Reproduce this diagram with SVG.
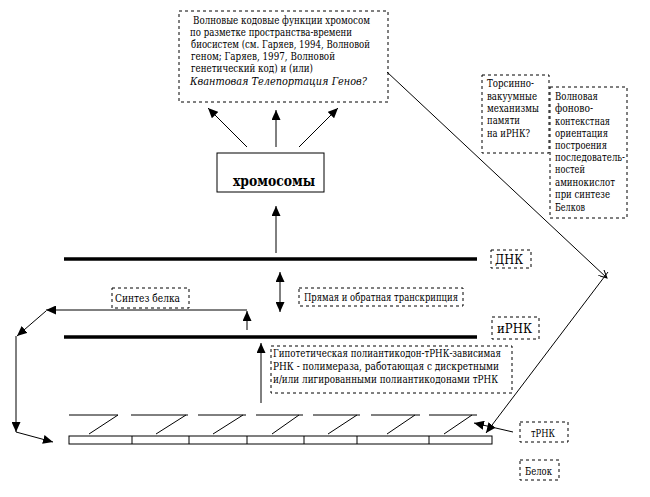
<svg xmlns="http://www.w3.org/2000/svg" width="650" height="497" viewBox="0 0 650 497">
<style>
text{font-family:'DejaVu Serif','Liberation Serif',serif;font-size:10.5px;fill:#000}
text.big{font-size:12px}
text.chrom{font-size:14px;font-weight:bold}
text.it{font-style:italic}
.box{fill:none;stroke:#000;stroke-width:1;stroke-dasharray:3,3}
.ln{fill:none;stroke:#000;stroke-width:1}
.thick{fill:none;stroke:#000;stroke-width:3.5}
</style>
<defs>
<marker id="ah" markerUnits="userSpaceOnUse" markerWidth="11" markerHeight="9" refX="10" refY="4.5" orient="auto-start-reverse">
<path d="M0,0 L10,4.5 L0,9 z" fill="#000"/>
</marker>
<marker id="ahs" markerUnits="userSpaceOnUse" markerWidth="9" markerHeight="8" refX="8" refY="4" orient="auto">
<path d="M0,0 L8,4 L0,8" fill="none" stroke="#000" stroke-width="1"/>
</marker>
</defs>
<rect width="650" height="497" fill="#fff"/>

<g id="top-box">
<rect class="box" x="179" y="11" width="209" height="91"/>
<text x="193" y="24" textLength="177" lengthAdjust="spacingAndGlyphs">Волновые кодовые функции хромосом</text>
<text x="190" y="36" textLength="162" lengthAdjust="spacingAndGlyphs">по разметке пространства-времени</text>
<text x="191" y="48" textLength="179" lengthAdjust="spacingAndGlyphs">биосистем (см. Гаряев, 1994, Волновой</text>
<text x="191" y="60" textLength="144" lengthAdjust="spacingAndGlyphs">геном; Гаряев, 1997,  Волновой</text>
<text x="191" y="72" textLength="122" lengthAdjust="spacingAndGlyphs">генетический код) и (или)</text>
<text class="it" x="190" y="85" textLength="177" lengthAdjust="spacingAndGlyphs">Квантовая Телепортация Генов?</text>
</g>

<g id="chromosomes">
<rect class="ln" x="217" y="153" width="107" height="39"/>
<text class="chrom" x="233" y="186" textLength="82" lengthAdjust="spacingAndGlyphs">хромосомы</text>
</g>

<g id="torsion-box">
<rect class="box" x="482" y="75" width="67" height="78"/>
<text x="487" y="87" textLength="47" lengthAdjust="spacingAndGlyphs">Торсинно-</text>
<text x="487" y="100" textLength="50" lengthAdjust="spacingAndGlyphs">вакуумные</text>
<text x="487" y="112" textLength="52" lengthAdjust="spacingAndGlyphs">механизмы</text>
<text x="487" y="124" textLength="33" lengthAdjust="spacingAndGlyphs">памяти</text>
<text x="487" y="137" textLength="43" lengthAdjust="spacingAndGlyphs">на иРНК?</text>
</g>

<g id="wave-box">
<rect class="box" x="550" y="87" width="77" height="131"/>
<text x="555" y="100" textLength="43" lengthAdjust="spacingAndGlyphs">Волновая</text>
<text x="555" y="112" textLength="38" lengthAdjust="spacingAndGlyphs">фоново-</text>
<text x="555" y="125" textLength="55" lengthAdjust="spacingAndGlyphs">контекстная</text>
<text x="555" y="137" textLength="53" lengthAdjust="spacingAndGlyphs">ориентация</text>
<text x="555" y="149" textLength="52" lengthAdjust="spacingAndGlyphs">построения</text>
<text x="555" y="161" textLength="70" lengthAdjust="spacingAndGlyphs">последователь-</text>
<text x="555" y="173" textLength="30" lengthAdjust="spacingAndGlyphs">ностей</text>
<text x="555" y="186" textLength="60" lengthAdjust="spacingAndGlyphs">аминокислот</text>
<text x="555" y="198" textLength="55" lengthAdjust="spacingAndGlyphs">при синтезе</text>
<text x="555" y="211" textLength="30" lengthAdjust="spacingAndGlyphs">Белков</text>
</g>

<g id="dna">
<line class="thick" x1="64" y1="259" x2="477" y2="259"/>
</g>
<g id="dna-label">
<rect class="box" x="491" y="250" width="40" height="18"/>
<text class="big" x="495" y="264" textLength="28" lengthAdjust="spacingAndGlyphs">ДНК</text>
</g>

<g id="transcription-label">
<rect class="box" x="299" y="288" width="164" height="18"/>
<text x="304" y="301" textLength="154" lengthAdjust="spacingAndGlyphs">Прямая и обратная транскрипция</text>
</g>

<g id="synthesis-label">
<rect class="box" x="112" y="288" width="77" height="20"/>
<text x="115" y="302" textLength="65" lengthAdjust="spacingAndGlyphs">Синтез белка</text>
</g>

<g id="mrna">
<line class="thick" x1="64" y1="337" x2="477" y2="337"/>
</g>
<g id="mrna-label">
<rect class="box" x="492" y="317" width="47" height="22"/>
<text class="big" x="497" y="333" textLength="35" lengthAdjust="spacingAndGlyphs">иРНК</text>
</g>

<g id="hypo-box">
<rect class="box" x="271" y="346" width="241" height="47"/>
<text x="273" y="357" textLength="228" lengthAdjust="spacingAndGlyphs">Гипотетическая полиантикодон-тРНК-зависимая</text>
<text x="273" y="370" textLength="226" lengthAdjust="spacingAndGlyphs">РНК -   полимераза, работающая  с  дискретными</text>
<text x="273" y="383" textLength="225" lengthAdjust="spacingAndGlyphs">и/или лигированными  полиантикодонами тРНК</text>
</g>

<g id="trna-strip">
<path class="ln" d="M69,415H118 M131,415H188 M198,415H246 M256,415H303 M313,415H360 M371,415H420 M429,415H477"/>
<path class="ln" d="M89,434L118,415 M156,434L186,415 M213,434L243,415 M272,434L299,415 M328,434L357,415 M387,434L415,415 M444,434L472,415"/>
<rect class="ln" x="69" y="436" width="423" height="8"/>
<path class="ln" d="M132,436V444 M189,436V444 M247,436V444 M304,436V444 M357,436V444 M429,436V444"/>
</g>

<g id="trna-label">
<rect class="box" x="520" y="422" width="48" height="20"/>
<text x="531" y="437" textLength="24" lengthAdjust="spacingAndGlyphs">тРНК</text>
</g>

<g id="protein-label">
<rect class="box" x="520" y="460" width="39" height="20"/>
<text x="525" y="475" textLength="27" lengthAdjust="spacingAndGlyphs">Белок</text>
</g>

<g id="connectors">
<line class="ln" x1="247" y1="147" x2="208" y2="108" marker-end="url(#ah)"/>
<line class="ln" x1="276" y1="147" x2="276" y2="110" marker-end="url(#ah)"/>
<line class="ln" x1="299" y1="147" x2="338" y2="108" marker-end="url(#ah)"/>
<line class="ln" x1="276" y1="253" x2="276" y2="206" marker-end="url(#ah)"/>
<line class="ln" x1="280" y1="272" x2="280" y2="312" marker-start="url(#ah)" marker-end="url(#ah)"/>
<line class="ln" x1="247" y1="330" x2="247" y2="311" marker-end="url(#ah)"/>
<line class="ln" x1="247" y1="310" x2="46" y2="310" marker-end="url(#ah)"/>
<line class="ln" x1="46" y1="311" x2="17" y2="336" marker-end="url(#ah)"/>
<line class="ln" x1="16" y1="336" x2="16" y2="432" marker-end="url(#ah)"/>
<line class="ln" x1="16" y1="432" x2="53" y2="442" marker-end="url(#ah)"/>
<line class="ln" x1="261" y1="403" x2="261" y2="343" marker-end="url(#ah)"/>
<line class="ln" x1="387" y1="72" x2="607" y2="278" marker-end="url(#ahs)"/>
<line class="ln" x1="608" y1="272" x2="486" y2="433" marker-end="url(#ah)"/>
<line class="ln" x1="513" y1="432" x2="474" y2="423" marker-end="url(#ah)"/>
</g>
</svg>
